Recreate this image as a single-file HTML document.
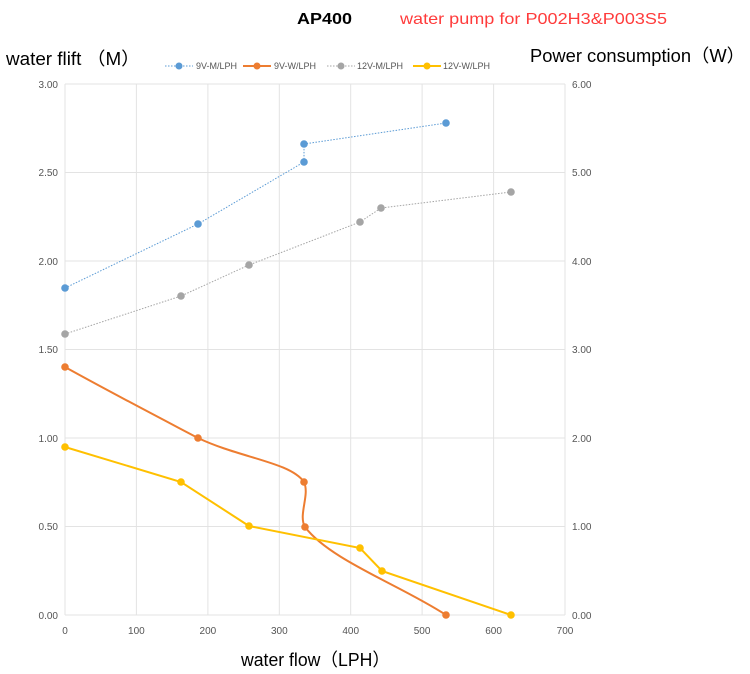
<!DOCTYPE html>
<html><head><meta charset="utf-8"><style>
body{margin:0;background:#fff;}
svg{display:block;font-family:"Liberation Sans","Noto Sans CJK SC",sans-serif;}
</style></head><body>
<svg width="750" height="674" viewBox="0 0 750 674">
<text x="297" y="24" font-size="16" font-weight="bold" fill="#000" textLength="55" lengthAdjust="spacingAndGlyphs">AP400</text>
<text x="400" y="24" font-size="16" fill="#ff3b3b" textLength="267" lengthAdjust="spacingAndGlyphs">water pump for P002H3&amp;P003S5</text>
<text x="6" y="65" font-size="18" fill="#000" textLength="134" lengthAdjust="spacingAndGlyphs">water flift （M）</text>
<text x="530" y="62" font-size="18" fill="#000" textLength="215" lengthAdjust="spacingAndGlyphs">Power consumption（W）</text>
<!-- legend -->
<g font-size="9" fill="#555">
<line x1="165" y1="66" x2="193" y2="66" stroke="#5b9bd5" stroke-dasharray="1.5,1.5"/><circle cx="179" cy="66" r="3.5" fill="#5b9bd5"/><text x="196" y="69">9V-M/LPH</text>
<line x1="243" y1="66" x2="271" y2="66" stroke="#ed7d31" stroke-width="2"/><circle cx="257" cy="66" r="3.5" fill="#ed7d31"/><text x="274" y="69">9V-W/LPH</text>
<line x1="327" y1="66" x2="355" y2="66" stroke="#a5a5a5" stroke-dasharray="1.5,1.5"/><circle cx="341" cy="66" r="3.5" fill="#a5a5a5"/><text x="357" y="69">12V-M/LPH</text>
<line x1="413" y1="66" x2="441" y2="66" stroke="#ffc000" stroke-width="2"/><circle cx="427" cy="66" r="3.5" fill="#ffc000"/><text x="443" y="69">12V-W/LPH</text>
</g>
<!-- grid -->
<g stroke="#e3e3e3" stroke-width="1">
<line x1="65" y1="84" x2="565" y2="84"/><line x1="65" y1="172.5" x2="565" y2="172.5"/><line x1="65" y1="261" x2="565" y2="261"/><line x1="65" y1="349.5" x2="565" y2="349.5"/><line x1="65" y1="438" x2="565" y2="438"/><line x1="65" y1="526.5" x2="565" y2="526.5"/><line x1="65" y1="615" x2="565" y2="615"/>
<line x1="65" y1="84" x2="65" y2="615"/><line x1="136.4" y1="84" x2="136.4" y2="615"/><line x1="207.9" y1="84" x2="207.9" y2="615"/><line x1="279.3" y1="84" x2="279.3" y2="615"/><line x1="350.7" y1="84" x2="350.7" y2="615"/><line x1="422.1" y1="84" x2="422.1" y2="615"/><line x1="493.6" y1="84" x2="493.6" y2="615"/><line x1="565" y1="84" x2="565" y2="615"/>
</g>
<g font-size="10" fill="#555" text-anchor="end">
<text x="58" y="88">3.00</text><text x="58" y="176">2.50</text><text x="58" y="265">2.00</text><text x="58" y="353">1.50</text><text x="58" y="442">1.00</text><text x="58" y="530">0.50</text><text x="58" y="619">0.00</text>
</g>
<g font-size="10" fill="#555">
<text x="572" y="88">6.00</text><text x="572" y="176">5.00</text><text x="572" y="265">4.00</text><text x="572" y="353">3.00</text><text x="572" y="442">2.00</text><text x="572" y="530">1.00</text><text x="572" y="619">0.00</text>
</g>
<g font-size="10" fill="#555" text-anchor="middle">
<text x="65" y="634">0</text><text x="136.4" y="634">100</text><text x="207.9" y="634">200</text><text x="279.3" y="634">300</text><text x="350.7" y="634">400</text><text x="422.1" y="634">500</text><text x="493.6" y="634">600</text><text x="565" y="634">700</text>
</g>
<text x="241" y="666" font-size="18" fill="#000" textLength="149" lengthAdjust="spacingAndGlyphs">water flow（LPH）</text>
<!-- series -->
<polyline points="65,288 198,224 304,162 304,144 446,123" fill="none" stroke="#5b9bd5" stroke-width="1" stroke-dasharray="1.5,1.5"/>
<g fill="#5b9bd5"><circle cx="65" cy="288" r="3.8"/><circle cx="198" cy="224" r="3.8"/><circle cx="304" cy="162" r="3.8"/><circle cx="304" cy="144" r="3.8"/><circle cx="446" cy="123" r="3.8"/></g>
<polyline points="65,334 181,296 249,265 360,222 381,208 511,192" fill="none" stroke="#a5a5a5" stroke-width="1" stroke-dasharray="1.5,1.5"/>
<g fill="#a5a5a5"><circle cx="65" cy="334" r="3.8"/><circle cx="181" cy="296" r="3.8"/><circle cx="249" cy="265" r="3.8"/><circle cx="360" cy="222" r="3.8"/><circle cx="381" cy="208" r="3.8"/><circle cx="511" cy="192" r="3.8"/></g>
<path d="M65,367 C110,392 160,418 198,438 C240,458 290,462 304,482 C310,495 298,515 305,527 C330,560 400,585 446,615" fill="none" stroke="#ed7d31" stroke-width="2"/>
<g fill="#ed7d31"><circle cx="65" cy="367" r="3.8"/><circle cx="198" cy="438" r="3.8"/><circle cx="304" cy="482" r="3.8"/><circle cx="305" cy="527" r="3.8"/><circle cx="446" cy="615" r="3.8"/></g>
<polyline points="65,447 181,482 249,526 360,548 382,571 511,615" fill="none" stroke="#ffc000" stroke-width="2"/>
<g fill="#ffc000"><circle cx="65" cy="447" r="3.8"/><circle cx="181" cy="482" r="3.8"/><circle cx="249" cy="526" r="3.8"/><circle cx="360" cy="548" r="3.8"/><circle cx="382" cy="571" r="3.8"/><circle cx="511" cy="615" r="3.8"/></g>
</svg>
</body></html>
